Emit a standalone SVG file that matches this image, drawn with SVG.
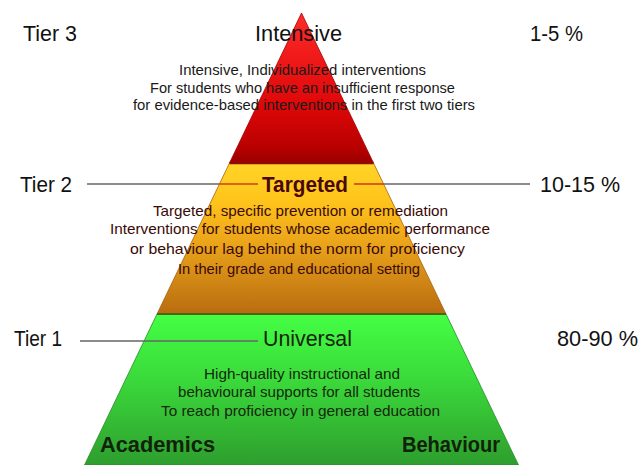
<svg xmlns="http://www.w3.org/2000/svg" width="641" height="465" viewBox="0 0 641 465">
<defs>
<linearGradient id="gRed" x1="0" y1="13" x2="0" y2="163" gradientUnits="userSpaceOnUse">
<stop offset="0" stop-color="#ff2b2b"/>
<stop offset="0.6" stop-color="#e00808"/>
<stop offset="0.9" stop-color="#b80000"/>
<stop offset="1" stop-color="#9a0000"/>
</linearGradient>
<linearGradient id="gYel" x1="0" y1="163" x2="0" y2="314" gradientUnits="userSpaceOnUse">
<stop offset="0" stop-color="#ffd526"/>
<stop offset="0.25" stop-color="#ffc41c"/>
<stop offset="0.55" stop-color="#e9a21a"/>
<stop offset="1" stop-color="#b96c10"/>
</linearGradient>
<linearGradient id="gGrn" x1="0" y1="314" x2="0" y2="465" gradientUnits="userSpaceOnUse">
<stop offset="0" stop-color="#44ff44"/>
<stop offset="0.45" stop-color="#3ad83a"/>
<stop offset="1" stop-color="#2e9e2e"/>
</linearGradient>
<style>
text{font-family:"Liberation Sans",Arial,sans-serif;text-anchor:start}
.hd{font-size:22px;fill:#111}
.ds{font-size:14.5px;fill:#1a1a1a}
.dy{font-size:14.5px;fill:#3a0a06}
.dg{font-size:14.5px;fill:#16280e}
.ln{stroke:#666;stroke-width:1.3;fill:none}
.lr{stroke:#d2401a;stroke-width:1.6;fill:none}
</style>
</defs>

<g id="tier3">
<polygon points="301.5,13 373.5,163 229.5,163" fill="url(#gRed)" stroke="#a40000" stroke-width="0.8"/>
<text class="hd" x="23" y="41" textLength="54" lengthAdjust="spacingAndGlyphs">Tier 3</text>
<text class="hd" x="255" y="41" textLength="87" lengthAdjust="spacingAndGlyphs">Intensive</text>
<text class="hd" x="530" y="41" textLength="53" lengthAdjust="spacingAndGlyphs">1-5 %</text>
<text class="ds" x="179" y="75" textLength="247" lengthAdjust="spacingAndGlyphs">Intensive, Individualized interventions</text>
<text class="ds" x="150" y="93" textLength="305" lengthAdjust="spacingAndGlyphs">For students who have an insufficient response</text>
<text class="ds" x="133" y="110" textLength="342" lengthAdjust="spacingAndGlyphs">for evidence-based interventions in the first two tiers</text>
</g>

<g id="tier2">
<polygon points="229.5,163 373.5,163 446,314 157,314" fill="url(#gYel)" stroke="#a86010" stroke-width="0.8"/>
<line x1="229.5" y1="163" x2="373.5" y2="163" stroke="#8e0a00" stroke-width="2.5"/>
<text class="hd" x="20" y="192" textLength="52" lengthAdjust="spacingAndGlyphs">Tier 2</text>
<text class="hd" x="262" y="192" textLength="86" lengthAdjust="spacingAndGlyphs" font-weight="bold" style="fill:#4a0808">Targeted</text>
<text class="hd" x="540" y="192" textLength="80" lengthAdjust="spacingAndGlyphs">10-15 %</text>
<text class="dy" x="153" y="216" textLength="295" lengthAdjust="spacingAndGlyphs">Targeted, specific prevention or remediation</text>
<text class="dy" x="110" y="234" textLength="380" lengthAdjust="spacingAndGlyphs">Interventions for students whose academic performance</text>
<text class="dy" x="130" y="254" textLength="335" lengthAdjust="spacingAndGlyphs">or behaviour lag behind the norm for proficiency</text>
<text class="dy" x="178" y="274" textLength="242" lengthAdjust="spacingAndGlyphs">In their grade and educational setting</text>
</g>

<g id="tier1">
<polygon points="157,314 446,314 518.5,465 84.5,465" fill="url(#gGrn)" stroke="#2a8a2a" stroke-width="0.8"/>
<line x1="157" y1="314" x2="446" y2="314" stroke="#4f6410" stroke-width="2"/>
<text class="hd" x="14" y="346" textLength="48" lengthAdjust="spacingAndGlyphs">Tier 1</text>
<text class="hd" x="263" y="346" textLength="89" lengthAdjust="spacingAndGlyphs" style="fill:#16260c">Universal</text>
<text class="hd" x="557" y="346" textLength="81" lengthAdjust="spacingAndGlyphs">80-90 %</text>
<text class="dg" x="204" y="379" textLength="196" lengthAdjust="spacingAndGlyphs">High-quality instructional and</text>
<text class="dg" x="178" y="397" textLength="242" lengthAdjust="spacingAndGlyphs">behavioural supports for all students</text>
<text class="dg" x="161" y="416" textLength="279" lengthAdjust="spacingAndGlyphs">To reach proficiency in general education</text>
<text class="hd" x="100" y="452" textLength="115" lengthAdjust="spacingAndGlyphs" font-weight="bold" style="fill:#12220a">Academics</text>
<text class="hd" x="402" y="452" textLength="98" lengthAdjust="spacingAndGlyphs" font-weight="bold" style="fill:#12220a">Behaviour</text>
</g>

<g id="connectors">
<line class="ln" x1="87" y1="184" x2="219" y2="184"/>
<line class="lr" x1="219" y1="184" x2="258" y2="184"/>
<line class="lr" x1="354" y1="184" x2="384" y2="184"/>
<line class="ln" x1="384" y1="184" x2="530" y2="184"/>
<line class="ln" x1="80" y1="341" x2="258" y2="341"/>
</g>
</svg>
